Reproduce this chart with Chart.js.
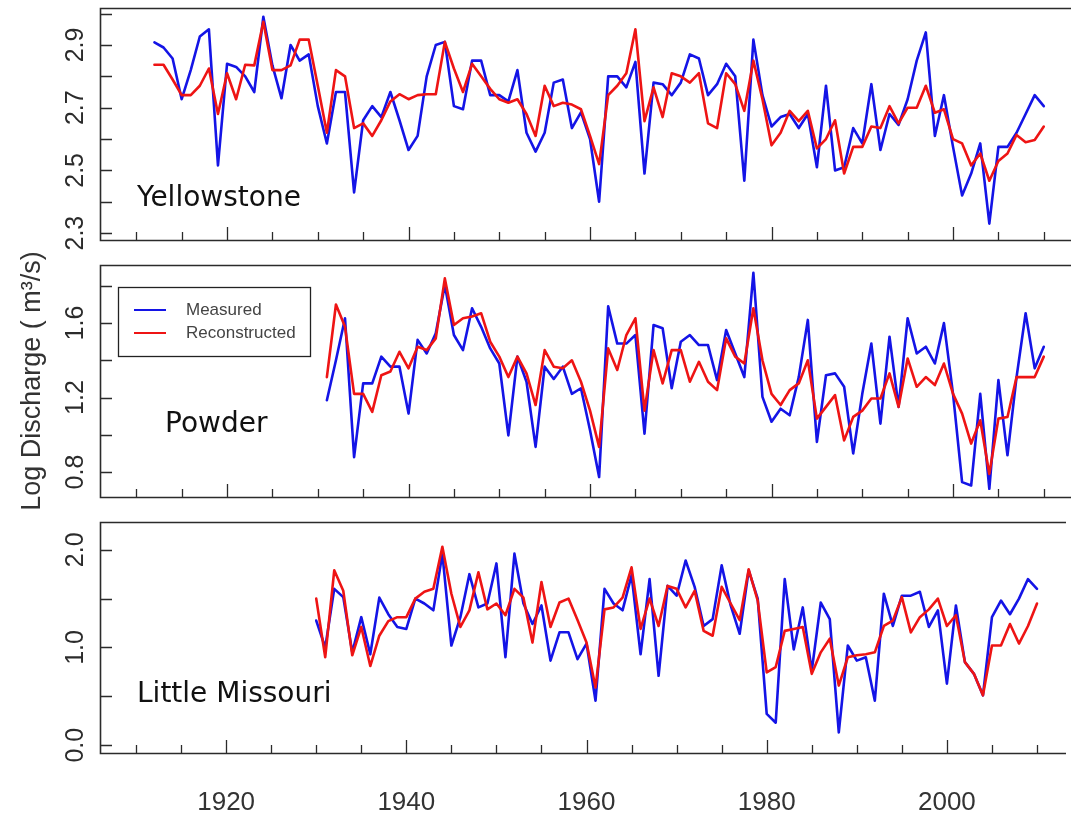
<!DOCTYPE html>
<html>
<head>
<meta charset="utf-8">
<script src="https://cdn.jsdelivr.net/npm/chart.js@4.4.1/dist/chart.umd.min.js"></script>
<style>
  html, body { margin: 0; padding: 0; background: #fff; overflow: hidden; }
  #wrap { position: relative; width: 1071px; height: 816px; }
  #wrap canvas { position: absolute; left: 0; }
</style>
</head>
<body>
<div id="wrap">
  <canvas id="yellowstone" width="1071" height="250" style="top:0px"></canvas>
  <canvas id="powder" width="1071" height="296" style="top:236px"></canvas>
  <canvas id="missouri" width="1071" height="306" style="top:510px"></canvas>
</div>
<script>
// annual log discharge, measured vs tree-ring reconstruction
const yellowstoneStart = 1912;
const yellowstoneMeasured = [
  2.908, 2.892, 2.857, 2.727, 2.82, 2.927, 2.95, 2.516, 2.84, 2.83,
  2.80, 2.75, 2.99, 2.835, 2.73, 2.90, 2.85, 2.87, 2.705, 2.586,
  2.75, 2.75, 2.43, 2.66, 2.705, 2.67, 2.75, 2.66, 2.565, 2.61,
  2.80, 2.90, 2.91, 2.705, 2.695, 2.85, 2.85, 2.74, 2.74, 2.72,
  2.82, 2.62, 2.56, 2.62, 2.78, 2.79, 2.635, 2.685, 2.60, 2.40,
  2.80, 2.80, 2.765, 2.846, 2.49, 2.78, 2.775, 2.74, 2.78, 2.87,
  2.857, 2.74, 2.775, 2.84, 2.80, 2.467, 2.917, 2.74, 2.64, 2.67,
  2.68, 2.635, 2.68, 2.51, 2.77, 2.50, 2.51, 2.635, 2.586, 2.775,
  2.565, 2.68, 2.645, 2.727, 2.85, 2.94, 2.61, 2.74, 2.575, 2.42,
  2.49, 2.586, 2.33, 2.575, 2.575, 2.62, 2.68, 2.74, 2.705
];
const yellowstoneReconstructed = [
  2.837, 2.837, 2.79, 2.74, 2.74, 2.77, 2.825, 2.68, 2.81, 2.727,
  2.837, 2.835, 2.974, 2.82, 2.82, 2.835, 2.917, 2.917, 2.77, 2.62,
  2.82, 2.80, 2.635, 2.65, 2.61, 2.66, 2.72, 2.743, 2.727, 2.74,
  2.743, 2.743, 2.91, 2.825, 2.75, 2.84, 2.80, 2.76, 2.727, 2.716,
  2.727, 2.68, 2.61, 2.77, 2.705, 2.716, 2.71, 2.695, 2.61, 2.52,
  2.74, 2.77, 2.81, 2.95, 2.657, 2.765, 2.67, 2.81, 2.80, 2.78,
  2.81, 2.65, 2.635, 2.81, 2.775, 2.69, 2.85, 2.727, 2.58, 2.62,
  2.69, 2.657, 2.69, 2.57, 2.60, 2.66, 2.49, 2.575, 2.575, 2.64,
  2.635, 2.705, 2.65, 2.70, 2.70, 2.77, 2.684, 2.695, 2.60, 2.586,
  2.516, 2.554, 2.467, 2.53, 2.554, 2.613, 2.59, 2.597, 2.64
];

const powderStart = 1931;
const powderMeasured = [
  1.186, 1.40, 1.626, 0.88, 1.276, 1.276, 1.42, 1.366, 1.366, 1.114,
  1.51, 1.437, 1.545, 1.805, 1.536, 1.455, 1.68, 1.58, 1.464, 1.383,
  0.997, 1.42, 1.285, 0.935, 1.366, 1.30, 1.366, 1.22, 1.25, 1.025,
  0.773, 1.69, 1.49, 1.49, 1.536, 1.006, 1.59, 1.572, 1.25, 1.50,
  1.536, 1.482, 1.482, 1.294, 1.563, 1.437, 1.31, 1.87, 1.204, 1.07,
  1.14, 1.105, 1.31, 1.617, 0.962, 1.32, 1.33, 1.258, 0.90, 1.22,
  1.49, 1.06, 1.527, 1.15, 1.626, 1.437, 1.473, 1.383, 1.60, 1.22,
  0.746, 0.728, 1.22, 0.71, 1.294, 0.89, 1.31, 1.653, 1.357, 1.473
];
const powderReconstructed = [
  1.31, 1.70, 1.58, 1.22, 1.22, 1.123, 1.32, 1.34, 1.446, 1.357,
  1.473, 1.455, 1.518, 1.84, 1.59, 1.626, 1.635, 1.653, 1.50, 1.42,
  1.31, 1.42, 1.33, 1.16, 1.455, 1.366, 1.357, 1.40, 1.285, 1.13,
  0.935, 1.464, 1.348, 1.536, 1.626, 1.13, 1.455, 1.276, 1.455, 1.455,
  1.285, 1.392, 1.285, 1.24, 1.518, 1.42, 1.383, 1.68, 1.40, 1.22,
  1.16, 1.24, 1.276, 1.40, 1.087, 1.15, 1.213, 0.97, 1.096, 1.13,
  1.195, 1.195, 1.33, 1.15, 1.41, 1.258, 1.31, 1.267, 1.383, 1.22,
  1.114, 0.953, 1.078, 0.79, 1.087, 1.096, 1.31, 1.31, 1.31, 1.42
];

const missouriStart = 1930;
const missouriMeasured = [
  1.275, 1.0, 1.60, 1.515, 0.95, 1.31, 0.93, 1.51, 1.34, 1.21,
  1.19, 1.50, 1.45, 1.38, 1.96, 1.02, 1.31, 1.75, 1.41, 1.45,
  1.86, 0.90, 1.96, 1.45, 1.24, 1.43, 0.865, 1.155, 1.155, 0.88,
  1.04, 0.455, 1.60, 1.45, 1.38, 1.74, 0.93, 1.70, 0.71, 1.63,
  1.53, 1.89, 1.62, 1.22, 1.29, 1.84, 1.43, 1.14, 1.79, 1.50,
  0.32, 0.23, 1.70, 0.98, 1.41, 0.76, 1.46, 1.29, 0.13, 1.02,
  0.865, 0.90, 0.455, 1.55, 1.22, 1.53, 1.53, 1.57, 1.21, 1.38,
  0.63, 1.43, 0.85, 0.73, 0.51, 1.31, 1.48, 1.34, 1.50, 1.70,
  1.60
];
const missouriReconstructed = [
  1.50, 0.90, 1.79, 1.58, 0.92, 1.21, 0.81, 1.12, 1.27, 1.31,
  1.31, 1.50, 1.57, 1.60, 2.03, 1.55, 1.21, 1.38, 1.77, 1.39,
  1.45, 1.33, 1.60, 1.51, 1.05, 1.67, 1.21, 1.46, 1.50, 1.28,
  1.05, 0.59, 1.39, 1.41, 1.51, 1.82, 1.19, 1.50, 1.22, 1.63,
  1.60, 1.41, 1.58, 1.17, 1.12, 1.62, 1.45, 1.28, 1.80, 1.48,
  0.745, 0.80, 1.17, 1.19, 1.21, 0.73, 0.95, 1.09, 0.61, 0.90,
  0.92, 0.93, 0.95, 1.22, 1.275, 1.515, 1.155, 1.31, 1.39, 1.50,
  1.22, 1.33, 0.85, 0.73, 0.51, 1.02, 1.02, 1.24, 1.04, 1.22,
  1.45
];

const yearTickStep = 5;
const yearLabelStep = 20;

const SANS = '"Liberation Sans", Arial, sans-serif';
const INK = '#2b2b2b';
const BLUE = '#1414e6';
const RED = '#ee1414';

const toPoints = (start, values) => values.map((v, i) => ({ x: start + i, y: v }));

// box, inward ticks, rotated y labels, river name and (optionally) legend
const riverFrame = {
  id: 'riverFrame',
  afterDraw(chart, args, opts) {
    const { ctx, chartArea: a, scales: { x, y } } = chart;
    ctx.save();
    ctx.strokeStyle = INK;
    ctx.lineWidth = 1.6;
    ctx.beginPath();
    ctx.moveTo(a.right + 2, a.top + 0.5);
    ctx.lineTo(a.left + 0.5, a.top + 0.5);
    ctx.lineTo(a.left + 0.5, a.bottom + 0.5);
    ctx.lineTo(a.right + 2, a.bottom + 0.5);
    ctx.stroke();

    ctx.lineWidth = 1.3;
    ctx.beginPath();
    y.ticks.forEach(t => {
      const py = Math.round(y.getPixelForValue(t.value)) + 0.5;
      ctx.moveTo(a.left, py);
      ctx.lineTo(a.left + 12, py);
    });
    x.ticks.forEach(t => {
      const px = Math.round(x.getPixelForValue(t.value)) + 0.5;
      const len = t.value % yearLabelStep === 0 ? 13 : 8;
      ctx.moveTo(px, a.bottom);
      ctx.lineTo(px, a.bottom - len);
    });
    ctx.stroke();

    ctx.fillStyle = INK;
    ctx.font = '25px ' + SANS;
    ctx.textAlign = 'center';
    ctx.textBaseline = 'middle';
    y.ticks.forEach(t => {
      if (!t.label) return;
      ctx.save();
      ctx.translate(a.left - 24, y.getPixelForValue(t.value));
      ctx.rotate(-Math.PI / 2);
      ctx.fillText(t.label, 0, 0);
      ctx.restore();
    });

    ctx.fillStyle = '#111';
    ctx.font = '28px "DejaVu Sans", Verdana, sans-serif';
    ctx.textAlign = 'left';
    ctx.fillText(opts.name, a.left + opts.nameDx, a.top + opts.nameDy);

    if (opts.legend) {
      const lg = opts.legend;
      const bx = a.left + lg.dx, by = a.top + lg.dy;
      ctx.fillStyle = '#fff';
      ctx.fillRect(bx, by, lg.w, lg.h);
      ctx.strokeStyle = '#222';
      ctx.lineWidth = 1.3;
      ctx.strokeRect(bx + 0.5, by + 0.5, lg.w, lg.h);
      ctx.font = '17px ' + SANS;
      chart.data.datasets.forEach((ds, i) => {
        const ly = by + 23 + i * 23;
        ctx.strokeStyle = ds.borderColor;
        ctx.lineWidth = 2;
        ctx.beginPath();
        ctx.moveTo(bx + 16, ly);
        ctx.lineTo(bx + 48, ly);
        ctx.stroke();
        ctx.fillStyle = '#444';
        ctx.fillText(ds.label, bx + 68, ly);
      });
    }
    ctx.restore();
  }
};

function buildPanel(id, p) {
  const onLabelGrid = v => {
    const k = (v - p.labelBase) / p.labelStep;
    return Math.abs(k - Math.round(k)) < 1e-6;
  };
  return new Chart(document.getElementById(id).getContext('2d'), {
    type: 'line',
    data: {
      datasets: [
        { label: 'Measured', data: toPoints(p.start, p.measured), borderColor: BLUE, order: 2 },
        { label: 'Reconstructed', data: toPoints(p.start, p.reconstructed), borderColor: RED, order: 1 }
      ]
    },
    options: {
      responsive: false,
      animation: false,
      devicePixelRatio: 1,
      layout: { padding: { top: p.padTop, left: 0, right: 0, bottom: 0 } },
      elements: {
        point: { radius: 0 },
        line: { tension: 0, borderWidth: 2.6, borderJoinStyle: 'round', borderCapStyle: 'round' }
      },
      scales: {
        x: {
          type: 'linear',
          min: 1906,
          max: 2013,
          grid: { display: false, drawTicks: false },
          border: { display: false },
          ticks: {
            display: p.showYears,
            stepSize: yearTickStep,
            includeBounds: false,
            autoSkip: false,
            maxRotation: 0,
            padding: 34,
            color: '#333',
            font: { family: SANS, size: 26 },
            callback: v => (v % yearLabelStep === 0 ? String(v) : '')
          },
          afterFit: s => { s.height = p.xHeight; }
        },
        y: {
          min: p.yMin,
          max: p.yMax,
          grid: { display: false, drawTicks: false },
          border: { display: false },
          ticks: {
            display: false,
            stepSize: p.tickStep,
            includeBounds: false,
            callback: v => (onLabelGrid(v) ? v.toFixed(1) : '')
          },
          title: {
            display: !!p.title,
            text: p.title || '',
            color: '#333',
            font: { family: SANS, size: 27 },
            padding: { top: 16, bottom: 0 }
          },
          afterFit: s => { s.width = 100; }
        }
      },
      plugins: {
        legend: { display: false },
        tooltip: { enabled: false },
        riverFrame: { name: p.name, nameDx: p.nameDx, nameDy: p.nameDy, legend: p.legend }
      }
    },
    plugins: [riverFrame]
  });
}

buildPanel('yellowstone', {
  name: 'Yellowstone', nameDx: 37, nameDy: 191,
  start: yellowstoneStart, measured: yellowstoneMeasured, reconstructed: yellowstoneReconstructed,
  yMin: 2.278, yMax: 3.018, tickStep: 0.1, labelBase: 2.3, labelStep: 0.2,
  padTop: 8, xHeight: 10, showYears: false
});

buildPanel('powder', {
  name: 'Powder', nameDx: 65, nameDy: 160,
  start: powderStart, measured: powderMeasured, reconstructed: powderReconstructed,
  yMin: 0.666, yMax: 1.912, tickStep: 0.2, labelBase: 0.8, labelStep: 0.4,
  padTop: 29, xHeight: 35, showYears: false,
  title: 'Log Discharge ( m³/s)',
  legend: { dx: 18, dy: 22, w: 192, h: 69 }
});

buildPanel('missouri', {
  name: 'Little Missouri', nameDx: 37, nameDy: 173,
  start: missouriStart, measured: missouriMeasured, reconstructed: missouriReconstructed,
  yMin: -0.08, yMax: 2.284, tickStep: 0.5, labelBase: 0, labelStep: 1,
  padTop: 12, xHeight: 63, showYears: true
});
</script>
</body>
</html>
